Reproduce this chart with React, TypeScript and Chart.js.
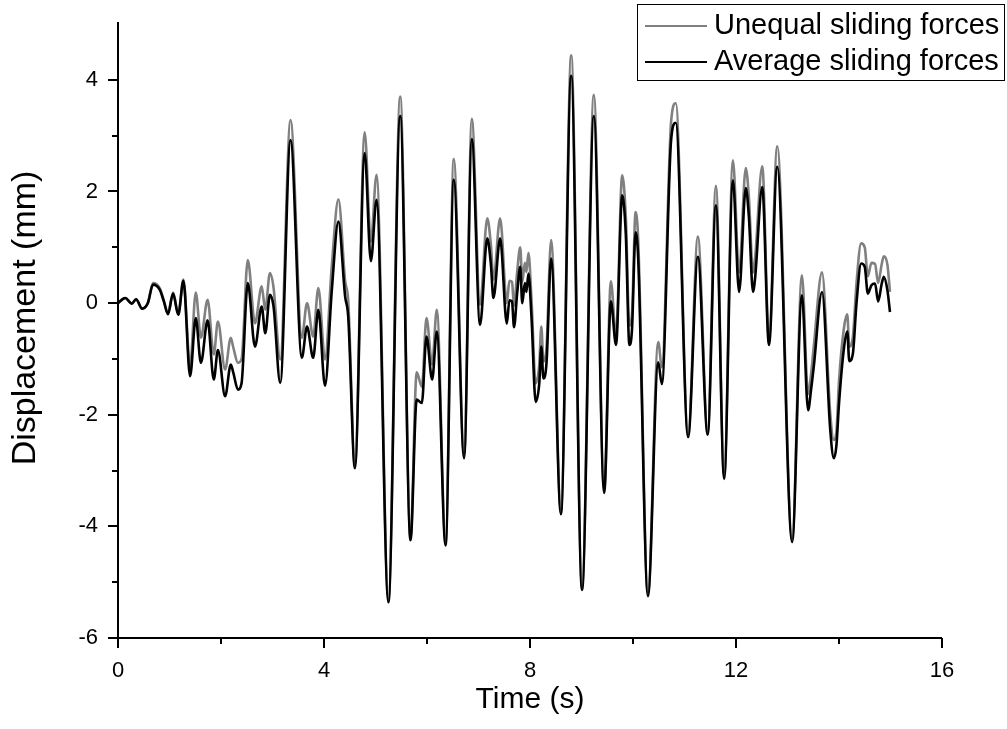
import React, { useEffect, useRef } from 'react';
import { Chart, registerables } from 'chart.js';

Chart.register(...registerables);

// Time axis (s)
const TIME_S = [
  0.00, 0.14, 0.27, 0.35, 0.47, 0.58, 0.68, 0.81, 0.89, 0.97, 1.07, 1.17, 1.27, 1.40, 1.51, 1.61, 1.74, 1.86, 1.94, 2.08,
  2.19, 2.24, 2.33, 2.40, 2.52, 2.66, 2.79, 2.86, 2.95, 3.02, 3.15, 3.35, 3.57, 3.67, 3.79, 3.89, 4.02, 4.15, 4.28, 4.41,
  4.47, 4.60, 4.79, 4.91, 5.02, 5.25, 5.48, 5.68, 5.80, 5.90, 5.99, 6.10, 6.19, 6.36, 6.52, 6.72, 6.87, 7.03, 7.17, 7.24,
  7.29, 7.42, 7.55, 7.60, 7.65, 7.69, 7.75, 7.81, 7.85, 7.90, 7.93, 7.97, 8.03, 8.11, 8.18, 8.22, 8.26, 8.32, 8.41, 8.60,
  8.80, 9.01, 9.24, 9.44, 9.57, 9.67, 9.79, 9.86, 9.93, 9.98, 10.05, 10.10, 10.29, 10.49, 10.56, 10.74, 10.83, 11.07, 11.26, 11.45,
  11.61, 11.77, 11.94, 12.06, 12.19, 12.25, 12.33, 12.37, 12.51, 12.64, 12.80, 13.09, 13.28, 13.40, 13.46, 13.51, 13.67, 13.83, 13.90, 13.95,
  14.00, 14.10, 14.16, 14.20, 14.27, 14.34, 14.43, 14.50, 14.56, 14.63, 14.70, 14.76, 14.83, 14.87, 14.94, 14.99,
];

// Displacement (mm) – average sliding forces (black)
const AVERAGE_MM = [
  0.00, 0.09, -0.01, 0.07, -0.10, 0.00, 0.33, 0.24, 0.03, -0.20, 0.17, -0.21, 0.40, -1.31, -0.27, -1.07, -0.31, -1.37, -0.84, -1.67,
  -1.10, -1.25, -1.55, -1.43, 0.36, -0.78, -0.06, -0.54, 0.15, -0.06, -1.43, 2.92, -0.98, -0.42, -0.98, -0.12, -1.48, 0.21, 1.46, 0.12,
  -0.24, -2.96, 2.69, 0.75, 1.85, -5.36, 3.35, -4.25, -1.73, -1.79, -0.60, -1.37, -0.51, -4.34, 2.21, -2.78, 2.94, -0.39, 1.16, 0.70,
  0.09, 1.16, -0.37, 0.05, 0.03, -0.43, 0.17, 0.65, 0.00, 0.36, 0.20, 0.53, -0.27, -1.77, -1.44, -0.78, -1.35, -1.08, 0.80, -3.78,
  4.07, -5.14, 3.35, -3.40, 0.03, -0.75, 1.93, 1.24, -0.75, -0.48, 1.27, 0.82, -5.25, -1.06, -1.45, 2.92, 3.23, -2.40, 0.83, -2.36,
  1.75, -3.15, 2.20, 0.20, 2.06, 1.55, 0.20, 0.44, 2.08, -0.75, 2.44, -4.28, 0.14, -1.92, -1.53, -1.14, 0.20, -2.27, -2.78, -2.55,
  -1.80, -0.78, -0.51, -1.04, -0.90, 0.00, 0.71, 0.65, 0.17, 0.32, 0.35, 0.03, 0.35, 0.47, 0.23, -0.16,
];

// Displacement (mm) – unequal sliding forces (grey)
const UNEQUAL_MM = [
  0.00, 0.09, -0.01, 0.07, -0.10, 0.00, 0.36, 0.27, 0.05, -0.18, 0.19, -0.19, 0.42, -1.13, 0.19, -0.62, 0.06, -0.92, -0.33, -1.19,
  -0.62, -0.80, -1.07, -1.00, 0.77, -0.36, 0.30, -0.12, 0.54, 0.28, -1.01, 3.28, -0.62, 0.00, -0.60, 0.27, -1.01, 0.65, 1.86, 0.40,
  0.05, -2.90, 3.06, 1.10, 2.30, -5.30, 3.70, -4.20, -1.24, -1.50, -0.27, -1.10, -0.12, -4.28, 2.58, -2.72, 3.30, -0.03, 1.52, 1.05,
  0.42, 1.52, 0.00, 0.40, 0.38, -0.05, 0.55, 1.00, 0.38, 0.72, 0.56, 0.90, 0.05, -1.44, -1.10, -0.42, -1.05, -0.80, 1.13, -3.72,
  4.44, -5.08, 3.73, -3.35, 0.39, -0.60, 2.29, 1.55, -0.40, -0.20, 1.63, 1.15, -5.20, -0.70, -1.15, 3.25, 3.58, -2.35, 1.19, -2.30,
  2.10, -3.10, 2.56, 0.55, 2.42, 1.90, 0.55, 0.80, 2.45, -0.65, 2.81, -4.22, 0.50, -1.63, -1.25, -0.78, 0.55, -1.98, -2.45, -2.30,
  -1.40, -0.42, -0.20, -0.78, -0.60, 0.36, 1.07, 1.00, 0.48, 0.72, 0.70, 0.36, 0.70, 0.84, 0.69, 0.20,
];

const SERIES_NAMES = ['Unequal sliding forces', 'Average sliding forces'];
const SERIES_COLORS = ['#808080', '#000000'];

const X_TICKS = [0, 2, 4, 6, 8, 10, 12, 14, 16];
const X_LABELED = [0, 4, 8, 12, 16];
const Y_TICKS = [-6, -5, -4, -3, -2, -1, 0, 1, 2, 3, 4];
const Y_LABELED = [-6, -4, -2, 0, 2, 4];

const X_TITLE = 'Time (s)';
const Y_TITLE = 'Displacement (mm)';

const FONT = "'Liberation Sans', Arial, Helvetica, sans-serif";

const originAxes = {
  id: 'originAxes',
  afterDraw(chart: any) {
    const { ctx, chartArea, scales } = chart;
    const xs = scales.x;
    const ys = scales.y;
    ctx.save();
    ctx.strokeStyle = '#000';
    ctx.lineWidth = 2;
    ctx.lineCap = 'butt';
    ctx.beginPath();
    ctx.moveTo(chartArea.left, chartArea.top - 2);
    ctx.lineTo(chartArea.left, chartArea.bottom + 1);
    ctx.moveTo(chartArea.left - 1, chartArea.bottom);
    ctx.lineTo(chartArea.right, chartArea.bottom);
    ctx.stroke();
    ctx.beginPath();
    for (const v of X_TICKS) {
      const px = Math.round(xs.getPixelForValue(v));
      const len = X_LABELED.includes(v) ? 10 : 6;
      ctx.moveTo(px, chartArea.bottom);
      ctx.lineTo(px, chartArea.bottom + len);
    }
    for (const v of Y_TICKS) {
      const py = Math.round(ys.getPixelForValue(v));
      const len = Y_LABELED.includes(v) ? 10 : 6;
      ctx.moveTo(chartArea.left, py);
      ctx.lineTo(chartArea.left - len, py);
    }
    ctx.stroke();

    // y-axis title
    ctx.save();
    ctx.translate(26, 318);
    ctx.rotate(-Math.PI / 2);
    ctx.font = `34px ${FONT}`;
    ctx.fillStyle = '#000';
    ctx.textAlign = 'center';
    ctx.textBaseline = 'middle';
    ctx.fillText(Y_TITLE, 0, 0);
    ctx.restore();

    // legend box
    const bx = 637, by = 4, bw = 367, bh = 76;
    ctx.fillStyle = '#fff';
    ctx.fillRect(bx, by, bw, bh);
    ctx.lineWidth = 1;
    ctx.strokeStyle = '#000';
    ctx.strokeRect(bx + 0.5, by + 0.5, bw, bh);
    ctx.font = `29px ${FONT}`;
    ctx.textBaseline = 'middle';
    ctx.textAlign = 'left';
    const rows = [26, 62];
    chart.data.datasets
      .slice()
      .sort((a: any, b: any) => SERIES_NAMES.indexOf(a.label) - SERIES_NAMES.indexOf(b.label))
      .forEach((ds: any, i: number) => {
        const y = rows[i];
        ctx.strokeStyle = ds.borderColor;
        ctx.lineWidth = 2;
        ctx.beginPath();
        ctx.moveTo(645, y);
        ctx.lineTo(707, y);
        ctx.stroke();
        ctx.fillStyle = '#000';
        ctx.fillText(ds.label, 714, y);
      });
    ctx.restore();
  },
};

export default function App() {
  const canvasRef = useRef<HTMLCanvasElement>(null);

  useEffect(() => {
    document.body.style.margin = '0';
    const canvas = canvasRef.current;
    if (!canvas) return;
    const unequal = TIME_S.map((t, i) => ({ x: t, y: UNEQUAL_MM[i] }));
    const average = TIME_S.map((t, i) => ({ x: t, y: AVERAGE_MM[i] }));
    const chart = new Chart(canvas, {
      type: 'line',
      data: {
        datasets: [
          {
            label: SERIES_NAMES[0],
            data: unequal,
            borderColor: SERIES_COLORS[0],
            borderWidth: 2.6,
            pointRadius: 0,
            cubicInterpolationMode: 'monotone',
            fill: false,
            order: 2,
          },
          {
            label: SERIES_NAMES[1],
            data: average,
            borderColor: SERIES_COLORS[1],
            borderWidth: 2.6,
            pointRadius: 0,
            cubicInterpolationMode: 'monotone',
            fill: false,
            order: 1,
          },
        ],
      },
      options: {
        responsive: false,
        animation: false,
        devicePixelRatio: 1,
        layout: { padding: { top: 24, right: 65, left: 0, bottom: 0 } },
        plugins: {
          legend: { display: false },
          tooltip: { enabled: false },
        },
        scales: {
          x: {
            type: 'linear',
            min: 0,
            max: 16,
            grid: { display: false, drawTicks: false },
            border: { display: false },
            afterFit: (s: any) => {
              s.height = 91;
              s.paddingLeft = 0;
              s.paddingRight = 0;
            },
            ticks: {
              stepSize: 2,
              autoSkip: false,
              maxRotation: 0,
              padding: 20,
              color: '#000',
              font: { family: FONT, size: 22 },
              callback: (v: any) => (X_LABELED.includes(Number(v)) ? String(v) : ''),
            },
            title: {
              display: true,
              text: X_TITLE,
              color: '#000',
              font: { family: FONT, size: 30 },
              padding: { top: 0, bottom: 11 },
            },
          },
          y: {
            type: 'linear',
            min: -6,
            max: 5,
            grid: { display: false, drawTicks: false },
            border: { display: false },
            afterFit: (s: any) => {
              s.width = 118;
              s.paddingTop = 0;
              s.paddingBottom = 0;
            },
            ticks: {
              stepSize: 1,
              autoSkip: false,
              padding: 20,
              color: '#000',
              font: { family: FONT, size: 22 },
              callback: (v: any) => (Y_LABELED.includes(Number(v)) ? String(v) : ''),
            },
            title: { display: false, text: Y_TITLE },
          },
        },
      },
      plugins: [originAxes],
    });
    return () => chart.destroy();
  }, []);

  return (
    <div style={{ width: 1007, height: 729, background: '#fff' }}>
      <canvas ref={canvasRef} width={1007} height={729} style={{ display: 'block', width: 1007, height: 729 }} />
    </div>
  );
}
